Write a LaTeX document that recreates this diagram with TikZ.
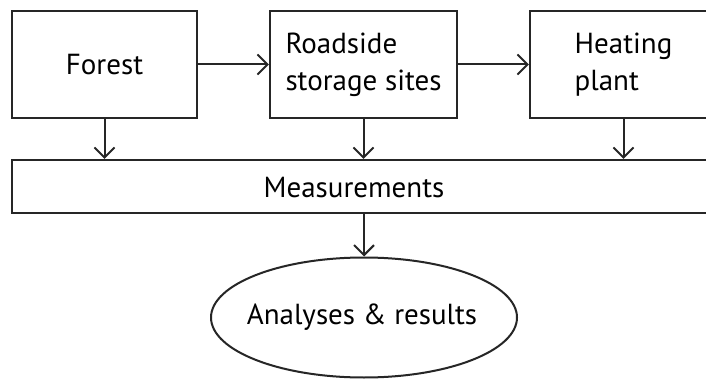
\documentclass[tikz,border=0pt]{standalone}
\usepackage{fontspec}
\setmainfont{PT Sans}
\usetikzlibrary{arrows.meta,shapes.geometric}
\begin{document}
\begin{tikzpicture}[x=1pt,y=-1pt,
  box/.style={draw=black!85,line width=2.2pt,rectangle,minimum height=107pt,inner sep=0pt,align=left,font=\fontsize{29}{37}\selectfont},
  lbl/.style={font=\fontsize{29}{37}\selectfont,inner sep=0pt},
  arr/.style={draw=black!85,line width=2pt,-{Straight Barb[length=10pt,width=20pt,line width=2pt]}}]
\clip (0,0) rectangle (706,379);
\fill[white] (0,0) rectangle (706,379);
\node[box,minimum width=185pt] (forest) at (104.5,64.5) {Forest};
\node[box,minimum width=187pt] (road) at (363.5,64.5) {Roadside\\storage sites};
\node[box,minimum width=187pt] (heat) at (623.5,64.5) {Heating\\plant};
\node[box,minimum width=705pt,minimum height=53pt] (meas) at (364.5,186.5) {};
\node[lbl] (measl) at (354,188) {Measurements};
\node[draw=black!85,line width=2pt,ellipse,minimum width=306pt,minimum height=120pt,inner sep=0pt] (res) at (364,317.5) {};
\node[lbl] (resl) at (362,317) {Analyses \& results};
\draw[arr] (forest.east) -- (road.west);
\draw[arr] (road.east) -- (heat.west);
\draw[arr] (forest.south) -- (forest.south |- meas.north);
\draw[arr] (road.south) -- (road.south |- meas.north);
\draw[arr] (heat.south) -- (heat.south |- meas.north);
\draw[arr] (meas.south -| res.north) -- (res.north);
\end{tikzpicture}
\end{document}
